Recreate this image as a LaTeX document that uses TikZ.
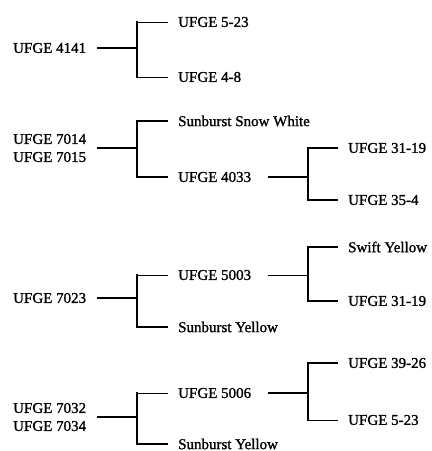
\documentclass[tikz,border=0pt]{standalone}
\usepackage{fontspec}
\setmainfont{Liberation Serif}
\newfontfamily\lblfont[FakeBold=1.2]{Liberation Serif}
\begin{document}
\begin{tikzpicture}[
  x=1pt, y=-1pt,
  font=\lblfont\fontsize{15}{18}\selectfont,
  lbl/.style={anchor=west, inner sep=0pt, align=left},
  heavy/.style={line width=1.8pt},
  light/.style={line width=0.9pt},
  fork/.style={line width=1.8pt, line cap=rect},
]
\useasboundingbox (0,0) rectangle (432,451);

% UFGE 4141
\node[lbl] (p1) at (13,48) {UFGE 4141};
\node[lbl] (c1a) at (178,22) {UFGE 5-23};
\node[lbl] (c1b) at (178,77) {UFGE 4-8};
\coordinate (f1) at (137,48);
\draw[heavy, shorten <=11pt] (p1) -- (f1);
\draw[fork] (c1a -| f1) -- (c1b -| f1);
\draw[light] (c1a -| f1) -- ([xshift=-10pt]c1a.west);
\draw[light] (c1b -| f1) -- ([xshift=-10pt]c1b.west);

% UFGE 7014 / 7015
\node[lbl] (p2) at (13,148) {UFGE 7014\\UFGE 7015};
\node[lbl] (c2a) at (178,121) {Sunburst Snow White};
\node[lbl] (c2b) at (178,177) {UFGE 4033};
\node[lbl] (g2a) at (348,148) {UFGE 31-19};
\node[lbl] (g2b) at (348,200) {UFGE 35-4};
\coordinate (f2) at (137,148);
\coordinate (h2) at (308,177);
\draw[heavy, shorten <=11pt] (p2) -- (f2);
\draw[fork] (c2a -| f2) -- (c2b -| f2);
\draw[heavy] (c2a -| f2) -- ([xshift=-10pt]c2a.west);
\draw[heavy] (c2b -| f2) -- ([xshift=-10pt]c2b.west);
\draw[heavy, shorten <=17pt] (c2b) -- (h2);
\draw[fork] (g2a -| h2) -- (g2b -| h2);
\draw[heavy] (g2a -| h2) -- ([xshift=-10pt]g2a.west);
\draw[heavy] (g2b -| h2) -- ([xshift=-10pt]g2b.west);

% UFGE 7023
\node[lbl] (p3) at (13,298) {UFGE 7023};
\node[lbl] (c3a) at (178,275) {UFGE 5003};
\node[lbl] (c3b) at (178,327) {Sunburst Yellow};
\node[lbl] (g3a) at (348,247) {Swift Yellow};
\node[lbl] (g3b) at (348,301) {UFGE 31-19};
\coordinate (f3) at (137,298);
\coordinate (h3) at (308,275);
\draw[heavy, shorten <=11pt] (p3) -- (f3);
\draw[fork] (c3a -| f3) -- (c3b -| f3);
\draw[light] (c3a -| f3) -- ([xshift=-10pt]c3a.west);
\draw[heavy] (c3b -| f3) -- ([xshift=-10pt]c3b.west);
\draw[light, shorten <=17pt] (c3a) -- (h3);
\draw[fork] (g3a -| h3) -- (g3b -| h3);
\draw[heavy] (g3a -| h3) -- ([xshift=-10pt]g3a.west);
\draw[heavy] (g3b -| h3) -- ([xshift=-10pt]g3b.west);

% UFGE 7032 / 7034
\node[lbl] (p4) at (13,417) {UFGE 7032\\UFGE 7034};
\node[lbl] (c4a) at (178,393) {UFGE 5006};
\node[lbl] (c4b) at (178,444) {Sunburst Yellow};
\node[lbl] (g4a) at (348,363) {UFGE 39-26};
\node[lbl] (g4b) at (348,420) {UFGE 5-23};
\coordinate (f4) at (137,417);
\coordinate (h4) at (308,393);
\draw[heavy, shorten <=11pt] (p4) -- (f4);
\draw[fork] (c4a -| f4) -- (c4b -| f4);
\draw[light] (c4a -| f4) -- ([xshift=-10pt]c4a.west);
\draw[heavy] (c4b -| f4) -- ([xshift=-10pt]c4b.west);
\draw[heavy, shorten <=17pt] (c4a) -- (h4);
\draw[fork] (g4a -| h4) -- (g4b -| h4);
\draw[heavy] (g4a -| h4) -- ([xshift=-10pt]g4a.west);
\draw[light] (g4b -| h4) -- ([xshift=-10pt]g4b.west);
\end{tikzpicture}
\end{document}
